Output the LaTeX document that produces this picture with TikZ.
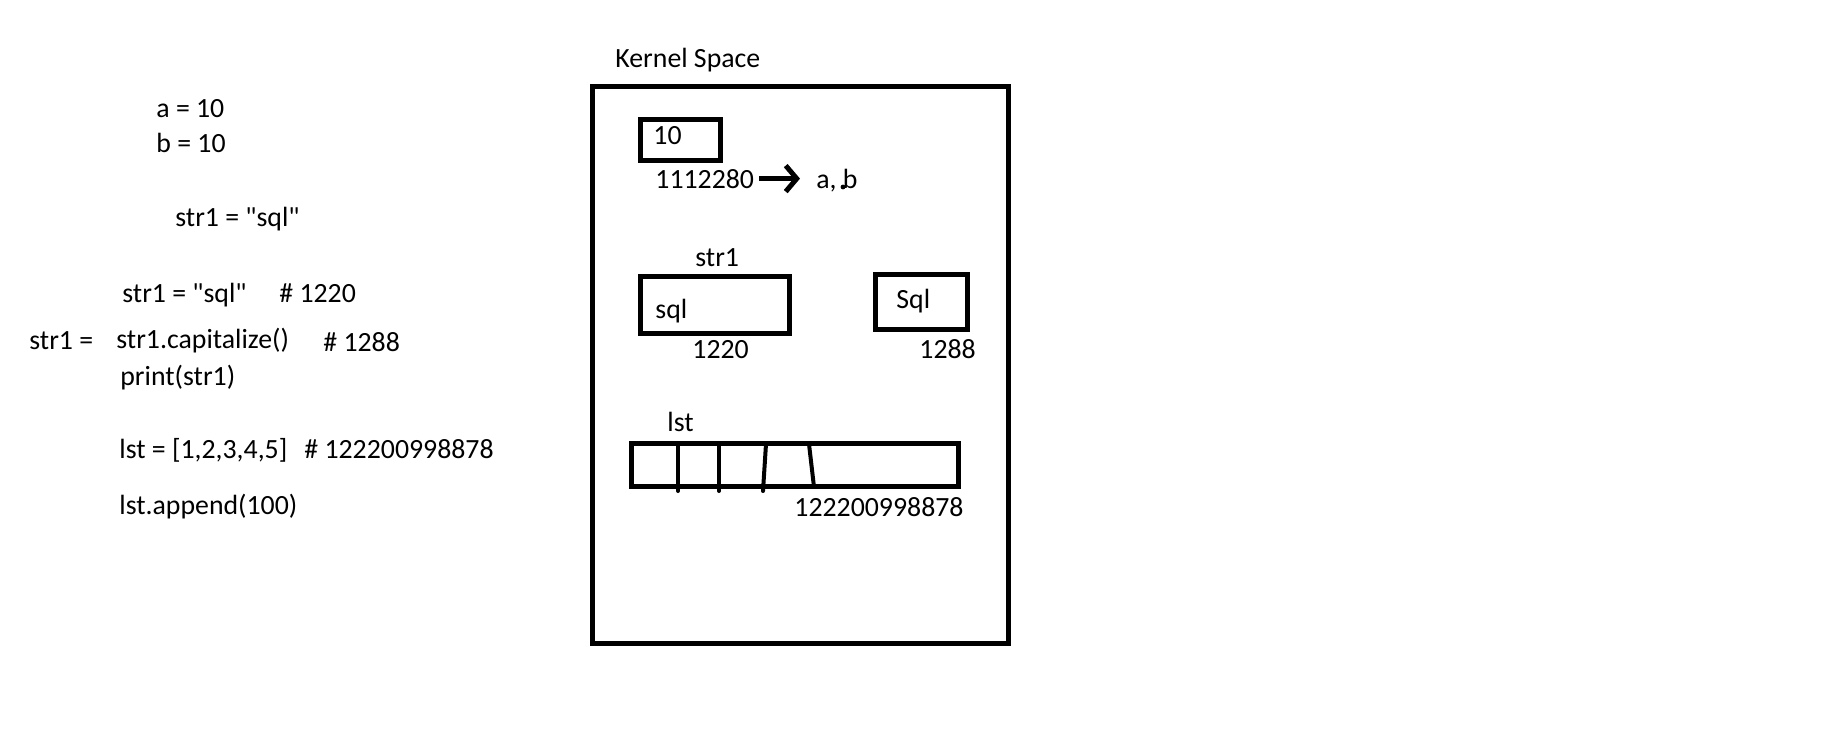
\documentclass[tikz,border=0pt]{standalone}
\usepackage{fontspec}
\setmainfont{Carlito}[Ligatures=TeXOff]
\usetikzlibrary{arrows.meta}

\begin{document}
\begin{tikzpicture}[x=0.5pt, y=-0.5pt, font=\fontsize{13.9pt}{16pt}\selectfont]
\tikzstyle{txt} = [anchor=base west, inner sep=0pt]
\tikzstyle{cell} = [draw, line width=2.5pt]
\tikzstyle{bar} = [draw, line width=2pt, line cap=round]

\useasboundingbox[fill=white] (0,0) rectangle (1848,755);

% the python code
\node[txt] (a) at (156,117) {a = 10};
\node[txt] (b) at (156,152) {b = 10};
\node[txt] (s0) at (175,226) {str1 = "sql"};
\node[txt] (s1) at (122,302) {str1 = "sql"};
\node[txt] (h1) at (279,302) {\# 1220};
\node[txt] (s2l) at (29,349) {str1 =};
\node[txt] (s2) at (116,348) {str1.capitalize()};
\node[txt] (h2) at (323,351) {\# 1288};
\node[txt] (pr) at (120,385) {print(str1)};
\node[txt] (l1) at (119,458) {lst = [1,2,3,4,5]};
\node[txt] (h3) at (304,458) {\# 122200998878};
\node[txt] (l2) at (119,514) {lst.append(100)};

% kernel space
\node[txt] (ks) at (615,67) {Kernel Space};
\draw[cell] (592.5,86) rectangle (1008.5,643);

% a, b
\draw[cell] (640,119.5) rectangle (720,160.5);
\node[txt] (ten) at (653,144) {10};
\node[txt] (addr10) at (655,188) {1112280};
\node[txt] (ab) at (816,188) {a, b};
\draw[line width=2.5pt, -{Straight Barb[length=5.5pt, width=13pt, line width=2.5pt]},
  shorten <=2.5pt, shorten >=8pt] (addr10.east) -- (addr10.east -| ab.west);
\fill (843,187) circle (1.2pt);

% strings
\node[txt] (str1) at (695,266) {str1};
\draw[cell] (640,276) rectangle (789,333);
\node[txt] (sql) at (655,318) {sql};
\node[txt] (a1220) at (692,358) {1220};
\draw[cell] (875.5,274.5) rectangle (967.5,329.5);
\node[txt] (Sql) at (896,308) {Sql};
\node[txt] (a1288) at (919,358) {1288};

% list
\node[txt] (lst) at (667,431) {lst};
\draw[cell] (631.5,443.5) rectangle (958.5,486.5);
\draw[bar] (678,444) -- (678,491);
\draw[bar] (719,444) -- (719,491);
\draw[bar] (766,444) -- (763,491);
\draw[bar] (809,444) -- (814,487);
\node[txt] (alst) at (794,516) {122200998878};
\end{tikzpicture}
\end{document}
